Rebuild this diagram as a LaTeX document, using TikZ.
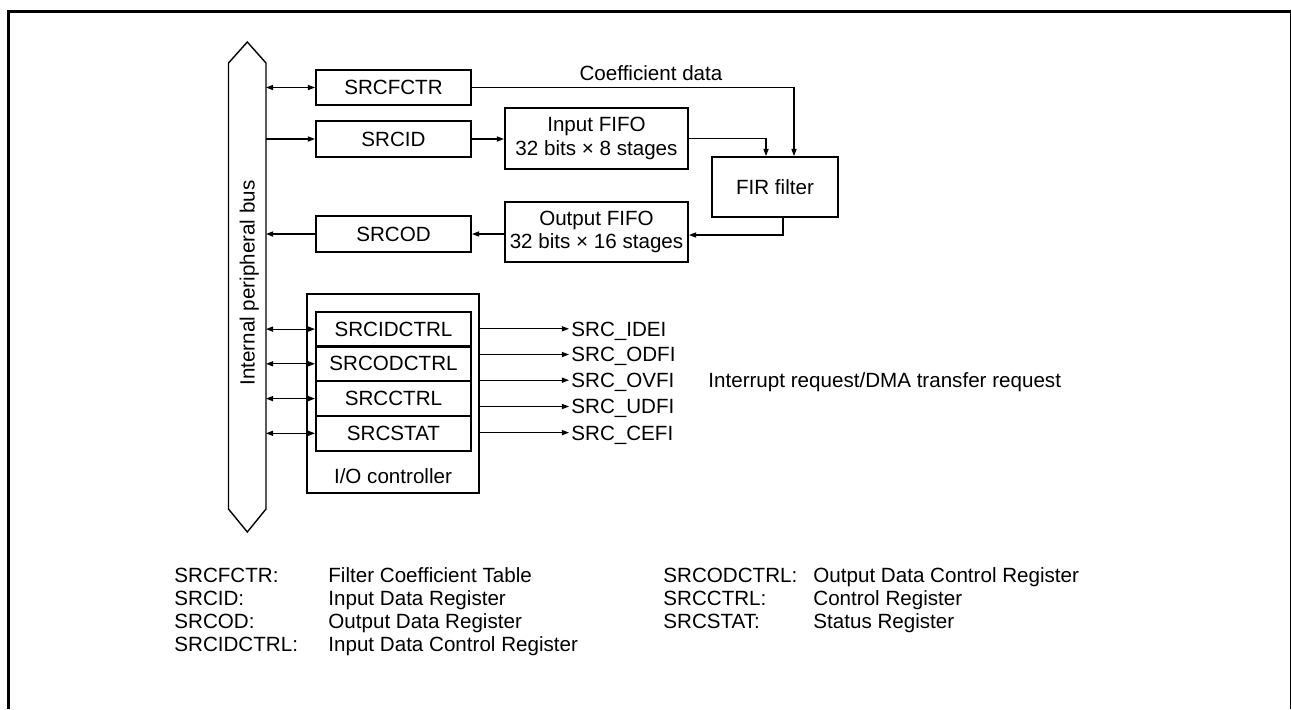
\documentclass[tikz,border=0pt]{standalone}
\usepackage{fontspec}
\setmainfont{Liberation Sans}
\usetikzlibrary{arrows.meta}
\newcommand\dfont{\fontsize{10.3}{11.75}\selectfont}
\tikzset{
  >={Triangle[length=3.6pt,width=2.6pt]},
  box/.style={draw, line width=1pt, inner sep=0pt, align=center, font=\dfont},
  regbox/.style={box, minimum width=77.5pt, minimum height=17.5pt},
  conn/.style={line width=0.55pt},
  txt/.style={inner sep=0pt, font=\dfont, text height=7.4pt, text depth=0pt},
}
\begin{document}
\begin{tikzpicture}[x=0.5pt,y=-0.5pt]
\useasboundingbox (0,0) rectangle (1291,709);
% frame
\draw[line width=1.75pt] (8.7,709) -- (8.7,11.3) -- (1291,11.3);
\draw[line width=0.6pt] (1290.4,11.3) -- (1290.4,709);
% bus
\draw[line width=0.7pt] (247.3,42) -- (266,63) -- (266,509) -- (247.3,532) -- (228.5,509) -- (228.5,63) -- cycle;
\coordinate (busR) at (266,0);
\node[txt, rotate=90] (buslbl) at (247.3,283) {Internal peripheral bus};
% registers
\node[regbox] (fctr) at (393.5,87.5) {SRCFCTR};
\node[regbox, minimum height=18pt] (srcid) at (393.5,139) {SRCID};
\node[regbox, minimum height=18pt] (srcod) at (393.5,234) {SRCOD};
\node[box, minimum width=91.5pt, minimum height=30.5pt] (infifo) at (596.5,138.5) {Input FIFO\\32 bits × 8 stages};
\node[box, minimum width=91.5pt, minimum height=30pt] (outfifo) at (596.5,232) {Output FIFO\\32 bits × 16 stages};
\node[box, minimum width=63pt, minimum height=30pt] (fir) at (775,187) {FIR filter};
\node[txt] (cd) at (651,73) {Coefficient data};
% connectors top
\draw[conn,<->] (fctr.west -| busR) -- (fctr.west);
\draw[conn,->] (srcid.west -| busR) -- (srcid.west);
\draw[conn,->] (srcid.east) -- (srcid.east -| infifo.west);
\draw[conn,->] (fctr.east) -| ([xshift=9.5pt]fir.north);
\draw[conn,->] (infifo.east) -| ([xshift=-4.5pt]fir.north);
\draw[conn,->] ([xshift=4pt]fir.south) |- ([yshift=-1.5pt]outfifo.east);
\draw[conn,->] (outfifo.west |- srcod.east) -- (srcod.east);
\draw[conn,->] (srcod.west) -- (srcod.west -| busR);
% I/O controller
\node[box, minimum width=86pt, minimum height=99.5pt] (ioc) at (393,393.5) {};
\node[txt] (ioclbl) at (393,476) {I/O controller};
\node[regbox, minimum height=17.4pt] (r1) at (393.5,329.1) {SRCIDCTRL};
\node[regbox, minimum height=17.4pt] (r2) at (393.5,363.8) {SRCODCTRL};
\node[regbox, minimum height=17.4pt] (r3) at (393.5,398.6) {SRCCTRL};
\node[regbox, minimum height=17.4pt] (r4) at (393.5,433.3) {SRCSTAT};
\foreach \r in {r1,r2,r3,r4}{
  \draw[conn,<->] (\r.west -| busR) -- (\r.west);
}
% interrupt outputs
\node[txt, anchor=west] (o1) at (571,328.8) {SRC\_IDEI};
\node[txt, anchor=west] (o2) at (571,354.5) {SRC\_ODFI};
\node[txt, anchor=west] (o3) at (571,380.2) {SRC\_OVFI};
\node[txt, anchor=west] (o4) at (571,406.5) {SRC\_UDFI};
\node[txt, anchor=west] (o5) at (571,432.6) {SRC\_CEFI};
\foreach \o in {o1,o2,o3,o4,o5}{
  \draw[conn,->] (ioc.east |- \o.west) -- ([xshift=-1pt]\o.west);
}
\node[txt, anchor=west] (irq) at (708,380.2) {Interrupt request/DMA transfer request};
% legend
\node[txt, anchor=west] (k1) at (174,575) {SRCFCTR:};
\node[txt, anchor=west] (k2) at (174,598) {SRCID:};
\node[txt, anchor=west] (k3) at (174,621) {SRCOD:};
\node[txt, anchor=west] (k4) at (174,644) {SRCIDCTRL:};
\node[txt, anchor=west] (v1) at (328,575) {Filter Coefficient Table};
\node[txt, anchor=west] (v2) at (328,598) {Input Data Register};
\node[txt, anchor=west] (v3) at (328,621) {Output Data Register};
\node[txt, anchor=west] (v4) at (328,644) {Input Data Control Register};
\node[txt, anchor=west] (k5) at (663,575) {SRCODCTRL:};
\node[txt, anchor=west] (k6) at (663,598) {SRCCTRL:};
\node[txt, anchor=west] (k7) at (663,621) {SRCSTAT:};
\node[txt, anchor=west] (v5) at (813,575) {Output Data Control Register};
\node[txt, anchor=west] (v6) at (813,598) {Control Register};
\node[txt, anchor=west] (v7) at (813,621) {Status Register};
\end{tikzpicture}
\end{document}
